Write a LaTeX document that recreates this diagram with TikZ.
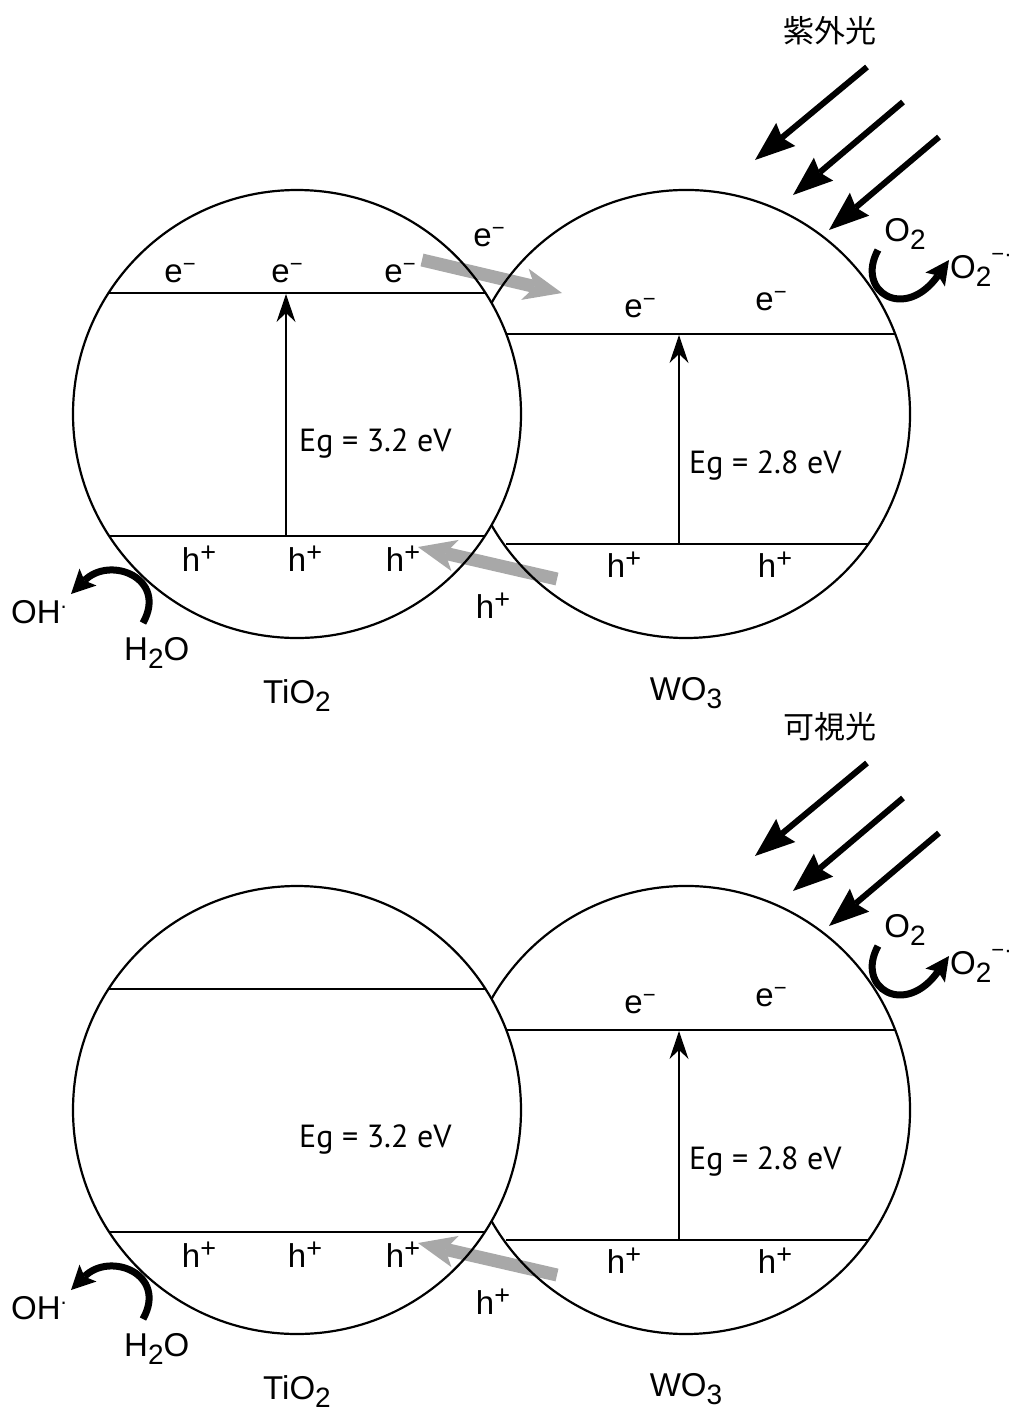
\documentclass[tikz,border=0pt]{standalone}
\usepackage{fontspec}
\setmainfont{Liberation Sans}
\newfontfamily\egfont{PT Sans}
\newfontfamily\cjkfont{Noto Sans CJK JP}
\usetikzlibrary{arrows.meta}
\definecolor{arrgray}{RGB}{168,168,168}
\newcommand{\elec}{e\raisebox{11pt}{\fontsize{22}{22}\selectfont −}}
\newcommand{\hole}{h\raisebox{10pt}{\fontsize{27}{27}\selectfont +}}
\newcommand{\chsub}[1]{\raisebox{-8pt}{\fontsize{28}{28}\selectfont #1}}
\tikzset{
  lbl/.style={font=\fontsize{33}{33}\selectfont, inner sep=0pt, anchor=base},
  eglbl/.style={font=\egfont\fontsize{32}{32}\selectfont, inner sep=0pt, anchor=base west},
  cjk/.style={font=\cjkfont\fontsize{31}{31}\selectfont, inner sep=0pt},
  ring/.style={circle, draw, line width=2.2pt, minimum size=448pt, inner sep=0pt},
  ringline/.style={line width=2.2pt},
  bandline/.style={line width=2.2pt},
  gaparrow/.style={line width=2pt, -{Stealth[length=28pt,width=19pt,inset=9pt,line width=0pt]}},
  lightarrow/.style={line width=6pt, -{Stealth[length=40pt,width=30pt,inset=5pt,line width=0pt]}},
  grayarrow/.style={line width=13pt, draw=arrgray, -{Stealth[length=38pt,width=32pt,inset=10pt,line width=0pt]}},
  curlarrow/.style={line width=7pt, -{Stealth[length=24pt,width=24pt,inset=5pt,line width=0pt]}},
}
\newcommand{\panelbands}[1]{%
  \draw[bandline] (506.2,334) -- (895.2,334);
  \draw[bandline] (506,544) -- (868.4,544);
  \coordinate (#1wvb) at (679,544);
  \coordinate (#1wcb) at (679,335);
  \draw[gaparrow] (#1wvb) -- (#1wcb);
  \draw[bandline] (108.5,293) -- (485.5,293);
  \draw[bandline] (109.1,536) -- (484.9,536);
  \node[lbl] (#1we1) at (640,317) {\elec};
  \node[lbl] (#1we2) at (771,310) {\elec};
  \node[lbl] (#1wh1) at (624,577) {\hole};
  \node[lbl] (#1wh2) at (775,577) {\hole};
  \node[lbl] (#1th1) at (199,571) {\hole};
  \node[lbl] (#1th2) at (305,571) {\hole};
  \node[lbl] (#1th3) at (403,571) {\hole};
  \node[lbl] (#1hmid) at (493,618) {\hole};
  \node[eglbl] (#1egt) at (299,451) {Eg = 3.2 eV};
  \node[eglbl] (#1egw) at (689,473) {Eg = 2.8 eV};
  \node[lbl] (#1tlabel) at (297,703) {TiO\chsub{2}};
  \node[lbl] (#1wlabel) at (686,700) {WO\chsub{3}};
  \node[lbl] (#1o2) at (905,241) {O\chsub{2}};
  \node[lbl,anchor=base west] (#1o2r) at (950,278) {O\chsub{2}\raisebox{17pt}{\fontsize{22}{22}\selectfont −·}};
  \node[lbl,anchor=base west] (#1oh) at (11,623) {OH\raisebox{15pt}{\fontsize{22}{22}\selectfont .}};
  \node[lbl,anchor=base west] (#1h2o) at (124,660) {H\chsub{2}O};
  \coordinate (#1l1s) at (867,67);  \coordinate (#1l1e) at (755,160);
  \coordinate (#1l2s) at (903,102); \coordinate (#1l2e) at (793,195);
  \coordinate (#1l3s) at (939,137); \coordinate (#1l3e) at (829,230);
  \draw[lightarrow] (#1l1s) -- (#1l1e);
  \draw[lightarrow] (#1l2s) -- (#1l2e);
  \draw[lightarrow] (#1l3s) -- (#1l3e);
  \coordinate (#1gs) at (557,579); \coordinate (#1ge) at (418,547);
  \draw[grayarrow] (#1gs) -- (#1ge);
}
\newcommand{\panelrings}[1]{%
  \node[ring] (#1tio) at (297,414) {};
  \node[ring, draw=none] (#1wo) at (686,414) {};
  \draw[ringline] (491.5,302.9) arc[start angle=-150.27, end angle=150.27, radius=224];
  \coordinate (#1c1s) at (878,250); \coordinate (#1c1e) at (949,260);
  \draw[curlarrow] (#1c1s) .. controls (855,292) and (905,322) .. (#1c1e);
  \coordinate (#1c2s) at (143,623); \coordinate (#1c2e) at (71,594);
  \draw[curlarrow] (#1c2s) .. controls (168,578) and (110,555) .. (#1c2e);
}
\begin{document}
\begin{tikzpicture}[x=1pt,y=-1pt]
\useasboundingbox (0,0) rectangle (1019,1417);
\fill[white] (0,0) rectangle (1019,1417);
% top panel: UV
\node[cjk] (uvlabel) at (830,31) {紫外光};
\panelbands{a}
\node[lbl] (ate1) at (180,282) {\elec};
\node[lbl] (ate2) at (287,282) {\elec};
\node[lbl] (ate3) at (400,282) {\elec};
\node[lbl] (aemid) at (489,246) {\elec};
\coordinate (atvb) at (286,536);
\coordinate (atcb) at (286,294);
\draw[gaparrow] (atvb) -- (atcb);
\coordinate (ags2) at (422,260); \coordinate (age2) at (562,293);
\draw[grayarrow] (ags2) -- (age2);
\panelrings{a}
% bottom panel: visible
\begin{scope}[yshift=-696pt]
\node[cjk] (vislabel) at (830,31) {可視光};
\panelbands{b}
\panelrings{b}
\end{scope}
\end{tikzpicture}
\end{document}
